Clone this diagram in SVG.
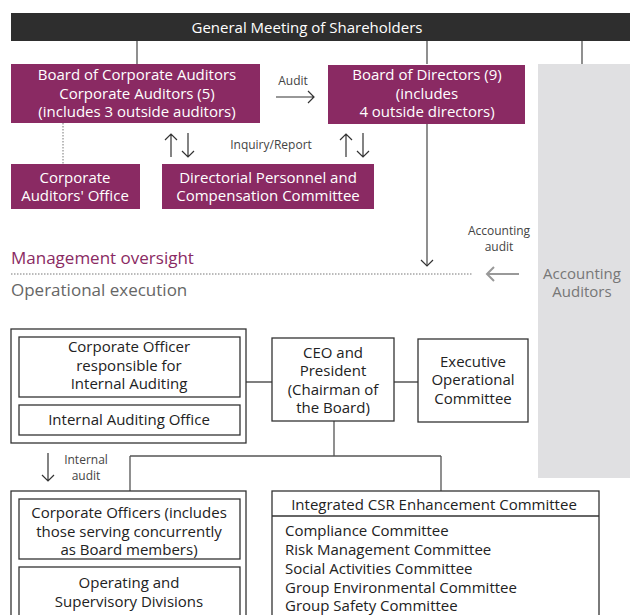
<svg xmlns="http://www.w3.org/2000/svg" width="630" height="615" viewBox="0 0 630 615">
<style>
text{font-family:"Open Sans","Noto Sans","Liberation Sans",sans-serif}
.w{fill:#fff;font-size:15px;text-anchor:middle}
.b{fill:#222;font-size:15px;text-anchor:middle}
.l{fill:#222;font-size:15px}
.s{fill:#444;font-size:12px;text-anchor:middle}
.p{fill:#8a2a63}
.bx{fill:#fff;stroke:#333;stroke-width:1.3}
.ln{stroke:#555;stroke-width:1.3;fill:none}
.ar{stroke:#333;stroke-width:1.2;fill:none}
</style>
<rect width="630" height="615" fill="#fff"/>
<g id="accounting-auditors">
<rect x="538" y="64" width="92" height="414" fill="#e0e0e2"/>
<text x="582" y="279" style="fill:#777;font-size:15px;text-anchor:middle">Accounting</text>
<text x="582" y="297" style="fill:#777;font-size:15px;text-anchor:middle">Auditors</text>
</g>
<g id="connectors">
<path class="ln" d="M137 41V64M427 41V64M582 41V64M427 124V266"/>
<path class="ar" d="M421 260L427 266L433 260"/>
<path d="M63 123V164" stroke="#777" stroke-width="1" stroke-dasharray="1.5 1.5"/>
<path class="ar" d="M276 97H314M308 91L314 97L308 103"/>
<path class="ar" d="M171 157V134M165 140L171 134L177 140M188 133V157M182 151L188 157L194 151"/>
<path class="ar" d="M346 157V134M340 140L346 134L352 140M363 133V157M357 151L363 157L369 151"/>
<path d="M11 274H473" stroke="#777" stroke-width="1" stroke-dasharray="1.5 1.5"/>
<path d="M519 274H487M494 267L487 274L494 281" stroke="#999" stroke-width="2" fill="none"/>
<path class="ln" d="M246 382H272M394 382H418M334 421V456M130 456H441M130 456V499M441 456V491M130 559V567"/>
<path class="ar" d="M48 453V481M42 475L48 481L54 475"/>
<text x="293" y="85" class="s">Audit</text>
<text x="271" y="149" class="s">Inquiry/Report</text>
<text x="499" y="235" class="s">Accounting</text>
<text x="499" y="251" class="s">audit</text>
<text x="86" y="464" class="s">Internal</text>
<text x="86" y="480" class="s">audit</text>
<text x="11" y="264" style="fill:#8a2a63;font-size:17px">Management oversight</text>
<text x="11" y="296" style="fill:#666;font-size:17px">Operational execution</text>
</g>
<g id="general-meeting">
<rect x="11" y="13" width="619" height="28" fill="#2e2e2e"/>
<text x="307" y="33" class="w">General Meeting of Shareholders</text>
</g>
<g id="board-auditors">
<rect x="11" y="64" width="249" height="59" class="p"/>
<text x="137" y="80" class="w">Board of Corporate Auditors</text>
<text x="137" y="99" class="w">Corporate Auditors (5)</text>
<text x="137" y="117" class="w">(includes 3 outside auditors)</text>
</g>
<g id="board-directors">
<rect x="328" y="65" width="197" height="59" class="p"/>
<text x="427" y="80" class="w">Board of Directors (9)</text>
<text x="427" y="99" class="w">(includes</text>
<text x="427" y="117" class="w">4 outside directors)</text>
</g>
<g id="auditors-office">
<rect x="11" y="164" width="129" height="45" class="p"/>
<text x="75" y="183" class="w">Corporate</text>
<text x="75" y="201" class="w">Auditors' Office</text>
</g>
<g id="personnel-committee">
<rect x="162" y="164" width="212" height="45" class="p"/>
<text x="268" y="183" class="w">Directorial Personnel and</text>
<text x="268" y="201" class="w">Compensation Committee</text>
</g>
<g id="internal-auditing">
<rect x="11" y="329" width="235" height="114" class="bx"/>
<rect x="19" y="337" width="221" height="60" class="bx"/>
<text x="129" y="352" class="b">Corporate Officer</text>
<text x="129" y="371" class="b">responsible for</text>
<text x="129" y="389" class="b">Internal Auditing</text>
<rect x="19" y="405" width="221" height="30" class="bx"/>
<text x="129" y="425" class="b">Internal Auditing Office</text>
</g>
<g id="ceo">
<rect x="272" y="338" width="122" height="83" class="bx"/>
<text x="333" y="358" class="b">CEO and</text>
<text x="333" y="376" class="b">President</text>
<text x="333" y="395" class="b">(Chairman of</text>
<text x="333" y="413" class="b">the Board)</text>
</g>
<g id="executive-committee">
<rect x="418" y="339" width="110" height="83" class="bx"/>
<text x="473" y="367" class="b">Executive</text>
<text x="473" y="385" class="b">Operational</text>
<text x="473" y="404" class="b">Committee</text>
</g>
<g id="corporate-officers">
<rect x="11" y="491" width="235" height="130" class="bx"/>
<rect x="19" y="499" width="221" height="60" class="bx"/>
<text x="129" y="518" class="b">Corporate Officers (includes</text>
<text x="129" y="537" class="b">those serving concurrently</text>
<text x="129" y="555" class="b">as Board members)</text>
<rect x="19" y="567" width="221" height="54" class="bx"/>
<text x="129" y="588" class="b">Operating and</text>
<text x="129" y="607" class="b">Supervisory Divisions</text>
</g>
<g id="csr-committee">
<rect x="272" y="491" width="327" height="130" class="bx"/>
<path d="M272 516H599" stroke="#333" stroke-width="1.3"/>
<text x="434" y="510" class="b">Integrated CSR Enhancement Committee</text>
<text x="285" y="536" class="l">Compliance Committee</text>
<text x="285" y="555" class="l">Risk Management Committee</text>
<text x="285" y="574" class="l">Social Activities Committee</text>
<text x="285" y="593" class="l">Group Environmental Committee</text>
<text x="285" y="611" class="l">Group Safety Committee</text>
</g>
</svg>
